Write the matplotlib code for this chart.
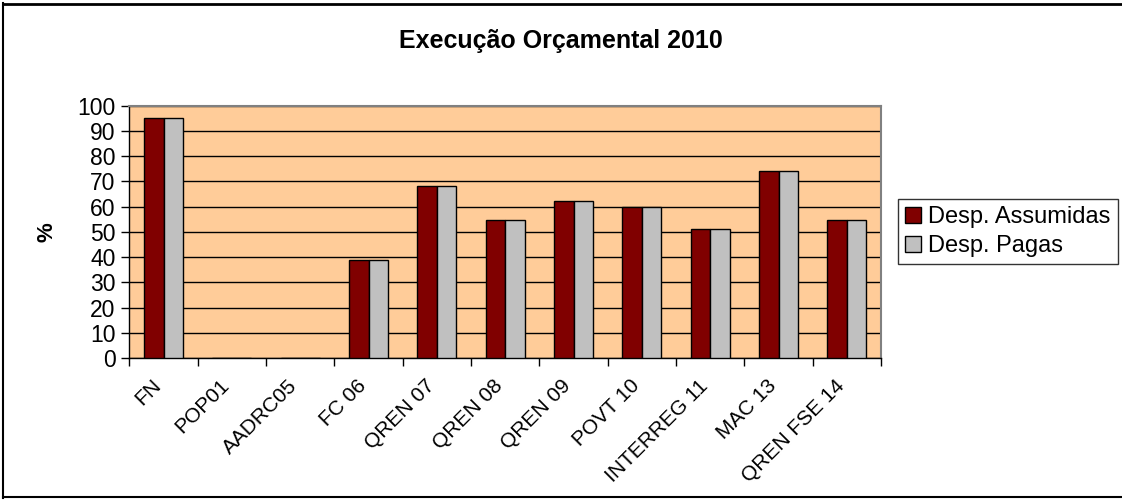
import numpy as np
import matplotlib.pyplot as plt
from matplotlib.lines import Line2D

plt.rcParams['font.family'] = ['Liberation Sans', 'DejaVu Sans']

# Budget execution by programme, 2010 (%)
programmes = ['FN', 'POP01', 'AADRC05', 'FC 06', 'QREN 07', 'QREN 08',
              'QREN 09', 'POVT 10', 'INTERREG 11', 'MAC 13', 'QREN FSE 14']
desp_assumidas = [95.0, 0, 0, 39.0, 68.0, 54.8, 62.4, 59.8, 51.0, 74.2, 54.8]
desp_pagas = [95.0, 0, 0, 39.0, 68.0, 54.8, 62.4, 59.8, 51.0, 74.2, 54.8]
yticks = list(range(0, 101, 10))

fig = plt.figure(figsize=(11.22, 5.01), dpi=100)
ax = fig.add_axes([0.1154, 0.2854, 0.6698, 0.5036])

x = np.arange(len(programmes))
w = 1 / 3.5
ax.bar(x - w / 2, desp_assumidas, w, color='#800000', edgecolor='black',
       linewidth=1, label='Desp. Assumidas', zorder=3)
ax.bar(x + w / 2, desp_pagas, w, color='#C0C0C0', edgecolor='black',
       linewidth=1, label='Desp. Pagas', zorder=3)

ax.set_facecolor('#FFCC99')
ax.set_xlim(-0.5, len(programmes) - 0.5)
ax.set_ylim(0, 100)
ax.set_yticks(yticks)
ax.yaxis.grid(True, color='black', linewidth=1, zorder=1)
ax.set_axisbelow(True)

# category boundary ticks, labels centred on the groups
ax.set_xticks(np.arange(len(programmes) + 1) - 0.5)
ax.set_xticklabels([])
ax.set_xticks(x - 0.18, minor=True)
ax.set_xticklabels(programmes, minor=True, rotation=45, ha='right',
                   rotation_mode='anchor', fontsize=15)
ax.tick_params(axis='x', which='minor', length=0, pad=13)
ax.tick_params(axis='x', which='major', length=6, width=1, direction='out')
ax.tick_params(axis='y', length=6, width=1, direction='out', labelsize=16.5, pad=4)

for side in ['top', 'right']:
    ax.spines[side].set_color('#808080')
    ax.spines[side].set_linewidth(1.5)
for side in ['left', 'bottom']:
    ax.spines[side].set_color('black')
    ax.spines[side].set_linewidth(1)

ax.set_ylabel('%', fontsize=16, fontweight='bold', labelpad=14)

fig.text(0.5, 0.918, 'Execução Orçamental 2010', ha='center', va='center',
         fontsize=18, fontweight='bold')

leg = ax.legend(loc='center left', bbox_to_anchor=(1.022, 0.5), fontsize=17,
                frameon=True, fancybox=False, handlelength=0.7,
                handleheight=0.7, handletextpad=0.3, borderpad=0.3,
                labelspacing=0.3, borderaxespad=0)
leg.get_frame().set_edgecolor('black')
leg.get_frame().set_linewidth(1)

# outer chart frame
fig.add_artist(Line2D([0.003, 0.003], [0.006, 0.994], color='black', lw=1.5,
                      transform=fig.transFigure))
fig.add_artist(Line2D([0.003, 1.0], [0.992, 0.992], color='black', lw=2,
                      transform=fig.transFigure))
fig.add_artist(Line2D([0.003, 1.0], [0.008, 0.008], color='black', lw=1.5,
                      transform=fig.transFigure))

fig.savefig('out.png', dpi=100)
